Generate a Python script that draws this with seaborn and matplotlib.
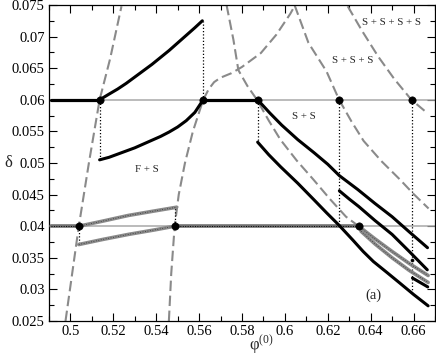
import numpy as np
import pandas as pd
import matplotlib
matplotlib.use("Agg")
import matplotlib.pyplot as plt
import seaborn as sns

# reference levels of delta
delta_levels = [0.06, 0.04]

# black branches (delta = 0.06 family)
fs_upper_phi = [0.5136, 0.518, 0.522, 0.526, 0.530, 0.534, 0.538, 0.542, 0.546, 0.550, 0.554, 0.558, 0.5615]
fs_upper_delta = [0.0600, 0.0609, 0.0617, 0.0626, 0.0636, 0.0646, 0.0656, 0.0667, 0.0678, 0.0690, 0.0702, 0.0714, 0.0725]
fs_lower_phi = [0.5136, 0.518, 0.522, 0.526, 0.530, 0.534, 0.538, 0.542, 0.546, 0.550, 0.554, 0.558, 0.5619]
fs_lower_delta = [0.0505, 0.0509, 0.0514, 0.0519, 0.0524, 0.0530, 0.0536, 0.0542, 0.0549, 0.0557, 0.0567, 0.0580, 0.0600]
ss_upper_phi = [0.5873, 0.593, 0.5985, 0.606, 0.6137, 0.620, 0.6254, 0.634, 0.642, 0.65, 0.658, 0.6665]
ss_upper_delta = [0.0600, 0.0579, 0.0560, 0.0537, 0.0516, 0.0498, 0.0480, 0.0458, 0.0436, 0.0415, 0.0391, 0.0366]
ss_lower_phi = [0.5873, 0.5925, 0.598, 0.606, 0.6135, 0.6195, 0.6254, 0.6317, 0.6365, 0.6413, 0.6475, 0.6536, 0.660, 0.6668]
ss_lower_delta = [0.0533, 0.0513, 0.0494, 0.0468, 0.0442, 0.0421, 0.0401, 0.0378, 0.0360, 0.0344, 0.0327, 0.0310, 0.0292, 0.0274]
sss_phi = [0.6254, 0.630, 0.6345, 0.642, 0.65, 0.658, 0.6664]
sss_delta = [0.0456, 0.0443, 0.0431, 0.0409, 0.0387, 0.0360, 0.0331]
ssss_phi = [0.6595, 0.6666]
ssss_delta = [0.0318, 0.0304]
thick_black_06 = [(0.491, 0.5136), (0.5619, 0.5873)]

# grey branches (delta = 0.04 family)
g_upper_phi = [0.5039, 0.515, 0.527, 0.539, 0.5495]
g_upper_delta = [0.04, 0.0408, 0.0417, 0.0424, 0.0430]
g_lower_phi = [0.5039, 0.515, 0.527, 0.539, 0.5486]
g_lower_delta = [0.0371, 0.0379, 0.0387, 0.0394, 0.04]
g_right1_phi = [0.6344, 0.642, 0.65, 0.658, 0.6668]
g_right1_delta = [0.04, 0.0380, 0.0360, 0.0341, 0.0322]
g_right2_phi = [0.6355, 0.642, 0.65, 0.658, 0.6668]
g_right2_delta = [0.0392, 0.0372, 0.0350, 0.0330, 0.0311]
thick_grey_04 = [(0.491, 0.5039), (0.5486, 0.6344)]

# dashed boundaries
d1_phi = [0.4977, 0.5008, 0.5039, 0.5086, 0.5136, 0.5185, 0.5238]
d1_delta = [0.025, 0.0325, 0.04, 0.05, 0.06, 0.0665, 0.0748]
d2_phi = [0.5459, 0.5470, 0.5486, 0.5505, 0.5534, 0.5571, 0.5619, 0.5645, 0.5670, 0.5700,
          0.5750, 0.5800, 0.5888, 0.5960, 0.6025, 0.6048]
d2_delta = [0.025, 0.0325, 0.04, 0.045, 0.05, 0.055, 0.06, 0.0617, 0.0628, 0.0635,
            0.0642, 0.0652, 0.0674, 0.0703, 0.0736, 0.075]
d3_phi = [0.5728, 0.576, 0.5783, 0.5825, 0.587, 0.5925, 0.5979, 0.6055, 0.6135, 0.621, 0.6285, 0.6344]
d3_delta = [0.075, 0.0695, 0.0647, 0.0622, 0.06, 0.0567, 0.0537, 0.0504, 0.0473, 0.0443, 0.0415, 0.04]
d4_phi = [0.6045, 0.611, 0.6194, 0.6253, 0.631, 0.6367, 0.645, 0.6536, 0.660, 0.667]
d4_delta = [0.075, 0.069, 0.0645, 0.06, 0.0566, 0.0535, 0.0503, 0.0474, 0.0451, 0.0428]
d5_phi = [0.6293, 0.636, 0.6436, 0.651, 0.659, 0.6664]
d5_delta = [0.0748, 0.0709, 0.0668, 0.0633, 0.06, 0.0579]

# dotted connectors: (phi, delta_from, delta_to)
dotted = [(0.5136, 0.06, 0.0505), (0.5619, 0.06, 0.0725), (0.5873, 0.06, 0.0533),
          (0.6254, 0.06, 0.0401), (0.6595, 0.06, 0.0296),
          (0.5039, 0.04, 0.0371), (0.5486, 0.04, 0.0430)]

dots_phi = [0.5136, 0.5619, 0.5873, 0.6254, 0.6595, 0.5039, 0.5486, 0.6344]
dots_delta = [0.06, 0.06, 0.06, 0.06, 0.06, 0.04, 0.04, 0.04]

labels = [("F + S", 0.5356, 0.0490), ("S + S", 0.6089, 0.0573),
          ("S + S + S", 0.6317, 0.0662), ("S + S + S + S", 0.6499, 0.0722),
          ("(a)", 0.6413, 0.0290)]

xticks = [0.5, 0.52, 0.54, 0.56, 0.58, 0.6, 0.62, 0.64, 0.66]
xtick_labels = ["0.5", "0.52", "0.54", "0.56", "0.58", "0.6", "0.62", "0.64", "0.66"]
yticks = [0.025, 0.03, 0.035, 0.04, 0.045, 0.05, 0.055, 0.06, 0.065, 0.07, 0.075]
ytick_labels = ["0.025", "0.03", "0.035", "0.04", "0.045", "0.05", "0.055",
                "0.06", "0.065", "0.07", "0.075"]

sns.set_style("ticks")
plt.rcParams['font.family'] = ['Liberation Serif', 'DejaVu Serif']
plt.rcParams['mathtext.fontset'] = 'custom'
plt.rcParams['mathtext.rm'] = 'Liberation Serif'
plt.rcParams['mathtext.it'] = 'Liberation Serif:italic'

fig = plt.figure(figsize=(4.36, 3.58), dpi=100)
ax = fig.add_axes([49 / 436, 1 - 321 / 358, 386 / 436, 316 / 358])

GREY = '#8a8a8a'


def curve(x, y, **kw):
    sns.lineplot(x=x, y=y, sort=False, estimator=None, ax=ax, legend=False, **kw)


# thin reference lines
for d in delta_levels:
    ax.axhline(d, color='#a8a8a8', lw=1.1, zorder=1)

# dashed boundaries
for px, py in [(d1_phi, d1_delta), (d2_phi, d2_delta), (d3_phi, d3_delta),
               (d4_phi, d4_delta), (d5_phi, d5_delta)]:
    curve(px, py, color=GREY, lw=1.5, linestyle=(0, (5, 2.2)), zorder=2)

# dotted connectors
for p, a, b in dotted:
    curve([p, p], [a, b], color='black', lw=0.9, linestyle=(0, (1, 1.6)), zorder=3)

# thick grey segments and branches
for a, b in thick_grey_04:
    curve([a, b], [0.04, 0.04], color='#707070', lw=2.6, zorder=3)
    curve([a, b], [0.04, 0.04], color='black', lw=0.7, linestyle=(0, (1, 1.5)), zorder=3)
for px, py in [(g_upper_phi, g_upper_delta), (g_lower_phi, g_lower_delta),
               (g_right1_phi, g_right1_delta), (g_right2_phi, g_right2_delta)]:
    curve(px, py, color=GREY, lw=2.6, zorder=3)
    curve(px, py, color='#333333', lw=0.6, linestyle=(0, (1, 2)), zorder=3)

# black branches
for a, b in thick_black_06:
    curve([a, b], [0.06, 0.06], color='black', lw=2.3, zorder=4)
for px, py in [(fs_upper_phi, fs_upper_delta), (fs_lower_phi, fs_lower_delta),
               (ss_upper_phi, ss_upper_delta), (ss_lower_phi, ss_lower_delta),
               (sss_phi, sss_delta), (ssss_phi, ssss_delta)]:
    curve(px, py, color='black', lw=2.2, zorder=4)

sns.scatterplot(x=dots_phi, y=dots_delta, color='black', s=28, edgecolor='black',
                zorder=6, ax=ax, legend=False)
sns.scatterplot(x=[0.6595], y=[0.0347], color='black', s=8, zorder=6, ax=ax, legend=False)

for txt, x, y in labels:
    fs = 10.5 if txt == "(a)" else 7.8
    ax.text(x, y, txt, fontsize=fs, ha='center', va='center', zorder=7)

ax.set_xlim(0.491, 0.667)
ax.set_ylim(0.025, 0.075)
ax.set_xticks(xticks)
ax.set_xticklabels(xtick_labels)
ax.set_yticks(yticks)
ax.set_yticklabels(ytick_labels)
ax.set_xticks(np.arange(0.49, 0.6701, 0.01), minor=True)
ax.set_yticks(np.arange(0.025, 0.0751, 0.0025), minor=True)
ax.tick_params(which='both', direction='in', top=True, right=True, width=0.8,
               labelsize=10.5, pad=3, colors='black')
ax.tick_params(which='major', length=6)
ax.tick_params(which='minor', length=3.5)
for s in ax.spines.values():
    s.set_linewidth(0.9)
    s.set_color('black')

ax.set_xlabel('φ$^{(0)}$', fontsize=12, va='top')
ax.xaxis.set_label_coords(0.55, -0.04)
ax.set_ylabel('δ', fontsize=12, rotation=0, va='center', ha='center')
ax.yaxis.set_label_coords(-0.106, 0.5)

fig.savefig('out.png', dpi=100)
